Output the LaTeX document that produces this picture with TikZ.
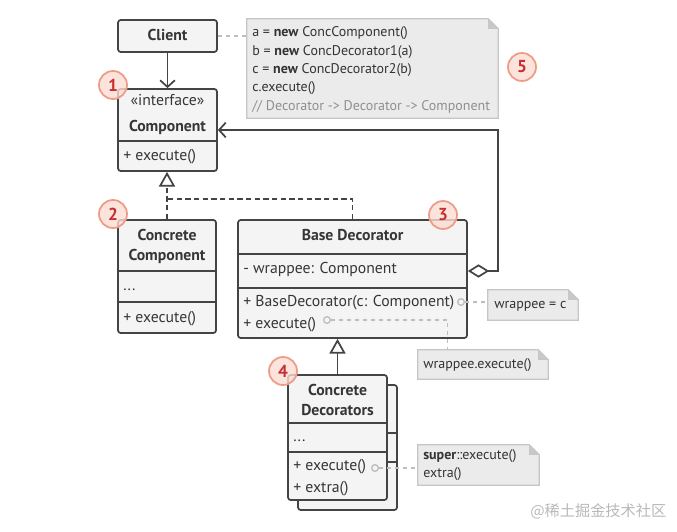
\documentclass[tikz,border=0pt]{standalone}
\usepackage{fontspec}
\setmainfont{PT Sans}
\newfontfamily\cjk{Noto Sans CJK SC}
\usetikzlibrary{fit,arrows.meta}
\definecolor{boxline}{HTML}{444444}
\definecolor{boxfill}{HTML}{F4F4F4}
\definecolor{noteline}{HTML}{C6C6C6}
\definecolor{notefill}{HTML}{EBEBEB}
\definecolor{notetext}{HTML}{333333}
\definecolor{linkgray}{HTML}{BDBDBD}
\definecolor{badgeline}{HTML}{EE9A86}
\definecolor{badgefill}{HTML}{FBDCD3}
\definecolor{badgetext}{HTML}{C62F2F}

\begin{document}
\begin{tikzpicture}[x=0.75pt, y=-0.75pt, font=\fontsize{11.8}{13}\selectfont,
  cls/.style={draw=boxline, line width=1.3pt, fill=boxfill, rounded corners=2pt, inner sep=0pt},
  sep/.style={draw=boxline, line width=1.3pt},
  txt/.style={anchor=west, inner sep=0pt, text height=8.5pt, text depth=2.3pt, text=boxline!80!black},
  ttl/.style={txt, anchor=center, font=\fontsize{11.8}{13}\selectfont\bfseries},
  notebox/.style={inner sep=0pt},
  note/.style={fill=notefill, draw=noteline, line width=1pt},
  ntxt/.style={anchor=west, inner sep=0pt, text height=7.6pt, text depth=2.1pt, text=notetext, font=\fontsize{10.5}{12}\selectfont},
  link/.style={draw=linkgray, line width=1pt, dash pattern=on 3pt off 3pt},
  dot/.style={circle, draw=linkgray, line width=1pt, fill=boxfill, inner sep=0pt, minimum size=5pt},
  inh/.style={draw=boxline, line width=1.3pt, -{Triangle[open, length=11pt, width=12pt, line width=1.3pt]}},
  impl/.style={inh, dash pattern=on 4pt off 2.5pt},
  assoc/.style={draw=boxline, line width=1.3pt, -{Straight Barb[length=5pt, width=11pt, line width=1.3pt]}},
  badge/.style={circle, draw=badgeline, fill=badgefill, fill opacity=0.8, text opacity=1, line width=1.3pt,
    minimum size=21pt, inner sep=0pt, text=badgetext, font=\fontsize{13}{13}\selectfont\bfseries}]
  \useasboundingbox (0,0) rectangle (677,531);

  % classes
  \node[cls, fit={(118,20) (217,52)}] (cl) {};
  \node[ttl] at (cl) {Client};

  \node[cls, fit={(118,89) (217,171)}] (comp) {};
  \draw[sep] (118,141) -- (217,141);
  \node[txt, anchor=center] at (167.5,101) {«interface»};
  \node[ttl] at (167.5,127) {Component};
  \node[txt] at (123,156) {+ execute()};

  \node[cls, fit={(118,220) (216,333)}] (cc) {};
  \draw[sep] (118,271) -- (216,271);
  \draw[sep] (118,302) -- (216,302);
  \node[ttl] at (167,236) {Concrete};
  \node[ttl] at (167,256) {Component};
  \node[txt] at (123,286) {...};
  \node[txt] at (123,318) {+ execute()};

  \node[cls, fit={(238,220) (467,338)}] (bd) {};
  \draw[sep] (238,254) -- (467,254);
  \draw[sep] (238,288) -- (467,288);
  \node[ttl] at (352.5,236) {Base Decorator};
  \node[txt] at (243,269) {- wrappee: Component};
  \node[txt] at (243,302) {+ BaseDecorator(c: Component)};
  \node[txt] at (243,324) {+ execute()};

  \node[cls, fit={(298,385) (397,510)}] (cd2) {};
  \draw[sep] (298,433) -- (397,433);
  \draw[sep] (298,462) -- (397,462);
  \node[cls, fit={(288,375) (387,500)}] (cd) {};
  \draw[sep] (288,423) -- (387,423);
  \draw[sep] (288,452) -- (387,452);
  \node[ttl] at (337.5,391) {Concrete};
  \node[ttl] at (337.5,411) {Decorators};
  \node[txt] at (293,437) {...};
  \node[txt] at (293,466) {+ execute()};
  \node[txt] at (293,488) {+ extra()};

  % relations
  \coordinate (j) at (167,199);
  \draw[assoc] (cl) -- (comp);
  \draw[impl] (cc.north) -- (cc.north |- comp.south);
  \draw[impl, -] (bd.north) |- (j);
  \draw[inh] (cd.north) -- (cd.north |- bd.south);
  \draw[assoc, {Diamond[open, length=16pt, width=10pt, line width=1.3pt]}-{Straight Barb[length=5pt, width=11pt, line width=1.3pt]}]
    ([yshift=6pt]bd.east) -- ++(30,0) |- (comp.east);

  % notes
  \node[notebox, fit={(247,19) (498,118)}] (n0) {};
  \node[notebox, fit={(488,290) (578,320)}] (n1) {};
  \node[notebox, fit={(418,350) (548,379)}] (n2) {};
  \node[notebox, fit={(418,445) (539,485)}] (n3) {};
  \foreach \n in {n0,n1,n2,n3} {
    \filldraw[note] (\n.south west) -- (\n.north west) -- ([xshift=-7.5pt]\n.north east)
      -- ([yshift=-7.5pt]\n.north east) -- (\n.south east) -- cycle;
    \filldraw[note, fill=notefill!85!black] ([xshift=-7.5pt]\n.north east) -- ([xshift=-7.5pt, yshift=-7.5pt]\n.north east)
      -- ([yshift=-7.5pt]\n.north east);
  }
  \node[ntxt] at (252,33) {a = \textbf{new} ConcComponent()};
  \node[ntxt] at (252,52) {b = \textbf{new} ConcDecorator1(a)};
  \node[ntxt] at (252,70) {c = \textbf{new} ConcDecorator2(b)};
  \node[ntxt] at (252,88) {c.execute()};
  \node[ntxt, text=notetext!55] at (252,107) {// Decorator -> Decorator -> Component};
  \node[ntxt] at (494,305) {wrappee = c};
  \node[ntxt] at (423,365) {wrappee.execute()};
  \node[ntxt] at (423,456) {\textbf{super}::execute()};
  \node[ntxt] at (423,474) {extra()};

  % note links
  \node[dot] (d1) at (461,302) {};
  \node[dot] (d2) at (327,320) {};
  \node[dot] (d3) at (375,468) {};
  \draw[link] (cl.east) -- (cl.east -| n0.west);
  \draw[link] (d1) -- (d1 -| n1.west);
  \draw[link] (d2) -| ([xshift=22.5pt]n2.north west);
  \draw[link] (d3) -- (d3 -| n3.west);

  % badges
  \node[badge] (b1) at (113,85) {1};
  \node[badge] (b2) at (113,214) {2};
  \node[badge] (b3) at (443,215) {3};
  \node[badge] (b4) at (283,371) {4};
  \node[badge] (b5) at (522,67) {5};

  \node[anchor=west, inner sep=0pt, text=black!28, font=\cjk\fontsize{11.4}{12}\selectfont] (wm) at (530,511) {@稀土掘金技术社区};
\end{tikzpicture}
\end{document}
